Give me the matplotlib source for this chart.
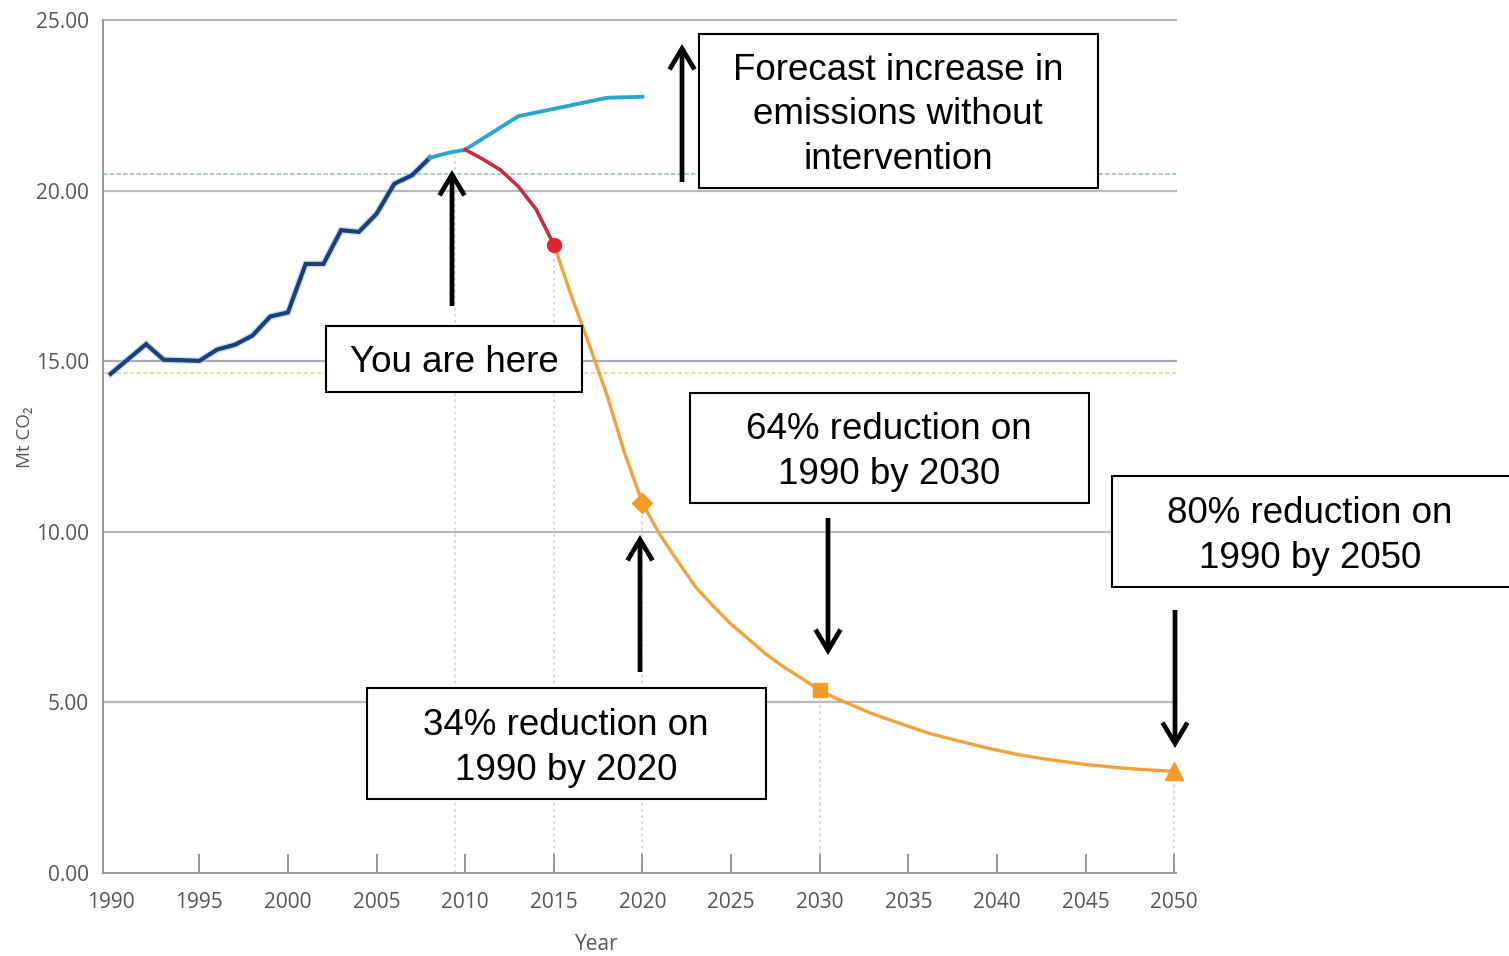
import matplotlib
matplotlib.use("Agg")
import matplotlib.pyplot as plt
from matplotlib.patches import Rectangle, FancyArrowPatch, ArrowStyle
import matplotlib.patheffects as pe

# ---------------- data ----------------
hist_years = [1990, 1992, 1993, 1994, 1995, 1996, 1997, 1998, 1999, 2000,
              2001, 2002, 2003, 2004, 2005, 2006, 2007, 2008]
hist_vals = [14.63, 15.50, 15.04, 15.03, 15.01, 15.34, 15.48, 15.75, 16.31, 16.43,
             17.85, 17.85, 18.84, 18.79, 19.32, 20.20, 20.45, 20.96]

trend_years = [2008, 2009, 2010, 2013, 2018, 2020]
trend_vals = [20.96, 21.10, 21.20, 22.18, 22.72, 22.75]

cut_years = [2010, 2011, 2012, 2013, 2014, 2015]
cut_vals = [21.20, 20.92, 20.60, 20.12, 19.45, 18.42]

target_years = list(range(2015, 2051))
target_vals = [18.42, 16.90, 15.48, 14.00, 12.30, 10.84, 9.90, 9.13, 8.38, 7.82,
               7.29, 6.85, 6.40, 6.03, 5.70, 5.35, 5.10, 4.88, 4.66, 4.48,
               4.30, 4.12, 3.98, 3.85, 3.72, 3.60, 3.49, 3.40, 3.32, 3.25,
               3.18, 3.13, 3.08, 3.04, 3.01, 2.98]

milestone_years = [2015, 2020, 2030, 2050]
milestone_vals = [18.42, 10.84, 5.35, 2.98]

now_year = 2009.4
now_top = 21.0

ref_upper = 20.48
ref_1990 = 14.65

x_ticks = list(range(1990, 2051, 5))
y_ticks = [0, 5, 10, 15, 20, 25]
y_tick_labels = ["0.00", "5.00", "10.00", "15.00", "20.00", "25.00"]

box_texts = ["Forecast increase in\nemissions without\nintervention",
             "You are here",
             "64% reduction on\n1990 by 2030",
             "80% reduction on\n1990 by 2050",
             "34% reduction on\n1990 by 2020"]

# ---------------- figure ----------------
W, H = 1509, 956
fig = plt.figure(figsize=(W / 100, H / 100), dpi=100)
fig.patch.set_facecolor("white")


def fx(x):
    return x / W


def fy(y):
    return 1 - y / H


ax = fig.add_axes([fx(102.7), fy(873), fx(1176) - fx(102.7), fy(20) - fy(873)])
ax.set_xlim(1989.55, 2050.1)
ax.set_ylim(0, 25)
ax.set_facecolor("none")

grid_c = "#b9b9b9"
for v in y_ticks[1:]:
    ax.axhline(v, color=grid_c if v != 15 else "#a9abbd", lw=1.6, zorder=1, clip_on=False)

ax.axhline(ref_upper, color="#9cc8bb", lw=1.3, ls=(0, (2.5, 1.2)), zorder=1.2)
ax.axhline(ref_1990, color="#dddfa6", lw=1.3, ls=(0, (2.5, 1.2)), zorder=1.2)

vl_x = [now_year] + milestone_years
vl_top = [now_top] + milestone_vals
ax.vlines(vl_x, 0, vl_top, colors="#d2d2d2", lw=1.1, linestyles=(0, (2, 2)), zorder=1.1)

halo = [pe.Stroke(linewidth=5.0, foreground="#9cc8e4", alpha=0.55), pe.Normal()]
ax.plot(hist_years, hist_vals, color="#1c3f7c", lw=3.0, zorder=4,
        solid_joinstyle="miter", path_effects=halo)
ax.plot(trend_years, trend_vals, color="#2aa6cc", lw=2.8, zorder=4,
        solid_joinstyle="round")
ax.plot(cut_years, cut_vals, color="#c92a3d", lw=2.6, zorder=4,
        solid_joinstyle="round")
ax.plot(target_years, target_vals, color="#f2a23c", lw=2.4, zorder=4,
        solid_joinstyle="round")

mk = dict(zorder=5, clip_on=False)
ax.plot(milestone_years[0], milestone_vals[0], "o", color="#e4212e", ms=10, **mk)
ax.plot(milestone_years[1], milestone_vals[1], "D", color="#f59a22", ms=10, **mk)
ax.plot(milestone_years[2], milestone_vals[2], "s", color="#f59a22", ms=10, **mk)
ax.plot(milestone_years[3], milestone_vals[3], "^", color="#f59a22", ms=13, **mk)

for s in ["top", "right"]:
    ax.spines[s].set_visible(False)
for s in ["left", "bottom"]:
    ax.spines[s].set_color("#999999")
    ax.spines[s].set_linewidth(1.4)

tick_font = dict(family=["Open Sans", "DejaVu Sans"], size=15, color="#555555")
ax.set_xticks(x_ticks)
ax.set_xticklabels([str(t) for t in x_ticks], **tick_font)
ax.set_yticks(y_ticks)
ax.set_yticklabels(y_tick_labels, **tick_font)
ax.tick_params(axis="x", direction="in", length=14, width=1.3, color="#8f8f8f", pad=14)
ax.tick_params(axis="y", length=0, pad=10)
ax.xaxis.get_major_ticks()[0].tick1line.set_visible(False)

fig.text(fx(597), fy(944), "Year", ha="center", va="center",
         family=["Open Sans", "DejaVu Sans"], size=15, color="#555555")
fig.text(fx(25), fy(437), "Mt CO₂", ha="center", va="center", rotation=90,
         family=["Open Sans", "DejaVu Sans"], size=13.5, color="#555555")

# ---------------- annotation boxes ----------------
boxes = [(699, 34, 1098, 188, 898, 115),
         (326, 326, 582, 392, 454, 362),
         (690, 393, 1089, 503, 889, 452),
         (1112, 476, 1515, 587, 1310, 536),
         (367, 688, 766, 799, 566, 748)]
for (x0, y0, x1, y1, cx, cy), txt in zip(boxes, box_texts):
    r = Rectangle((fx(x0), fy(y1)), fx(x1) - fx(x0), fy(y0) - fy(y1),
                  transform=fig.transFigure, facecolor="white",
                  edgecolor="black", lw=1.5, zorder=6)
    fig.add_artist(r)
    fig.text(fx(cx), fy(cy), txt, ha="center", va="center",
             family=["Liberation Sans", "DejaVu Sans"], size=26.5,
             linespacing=1.37, color="black", zorder=7)

arrows = [(682, 182, 44), (452, 306, 170), (640, 672, 535),
          (828, 518, 655), (1175, 610, 748)]
for x, ya, yb in arrows:
    a = FancyArrowPatch((fx(x), fy(ya)), (fx(x), fy(yb)), transform=fig.transFigure,
                        arrowstyle=ArrowStyle("->", head_length=0.75, head_width=0.45),
                        mutation_scale=20, lw=3.4, color="black", zorder=8,
                        shrinkA=0, shrinkB=0, joinstyle="miter", capstyle="butt")
    fig.add_artist(a)

fig.savefig("out.png", dpi=100, facecolor="white")
